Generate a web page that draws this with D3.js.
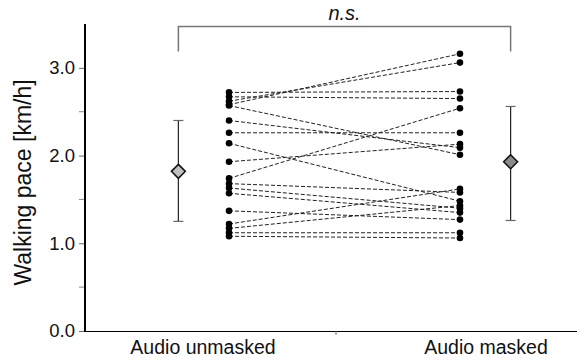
<!DOCTYPE html>
<html>
<head>
<meta charset="utf-8">
<script src="https://cdn.jsdelivr.net/npm/d3@7"></script>
<style>
  html, body { margin: 0; padding: 0; background: #fff; }
  svg { display: block; font-family: "Liberation Sans", Arial, sans-serif; }
</style>
</head>
<body>
<svg id="chart" width="577" height="360"></svg>
<script>
// ---- data ----
const categories = ["Audio unmasked", "Audio masked"];
const unmasked = [2.72, 2.67, 2.62, 2.58, 2.57, 2.40, 2.26, 2.14, 1.93, 1.74, 1.68, 1.63, 1.57, 1.37, 1.22, 1.17, 1.12, 1.08];
const masked   = [2.73, 2.65, 3.06, 3.16, 2.01, 2.09, 2.26, 1.48, 2.13, 2.54, 1.58, 1.40, 1.35, 1.27, 1.62, 1.43, 1.12, 1.06];
const means    = [1.82, 1.93];
const errLow   = [1.25, 1.26];
const errHigh  = [2.40, 2.56];
const meanFills = ["#c0c0c0", "#8a8a8a"];
const yMajorTicks = [0, 1, 2, 3];
const yMinorTicks = [0.5, 1.5, 2.5];
const yTickLabels = ["0.0", "1.0", "2.0", "3.0"];
const yTitle = "Walking pace [km/h]";
const sigLabel = "n.s.";

// ---- layout ----
const svg = d3.select("#chart");
const mLeft = 85, mRight = 577, mTop = 24, mBottom = 331;
const y = d3.scaleLinear().domain([0, 3.5]).range([mBottom, mTop]);
const x = d3.scaleLinear().domain([0, 1]).range([203, 486]);
const pointOffset = 0.092;   // individual points shifted toward centre
const meanOffset = 0.087;    // means shifted outward
const px = i => x(i + (i === 0 ? pointOffset : -pointOffset));
const mx = i => x(i + (i === 0 ? -meanOffset : meanOffset));

// paired dashed lines
const pairs = unmasked.map((v, k) => [v, masked[k]]);
svg.append("g").selectAll("line").data(pairs).join("line")
  .attr("x1", px(0)).attr("x2", px(1))
  .attr("y1", d => y(d[0])).attr("y2", d => y(d[1]))
  .attr("stroke", "#222").attr("stroke-width", 1)
  .attr("stroke-dasharray", "4,2");

// points
[unmasked, masked].forEach((arr, i) => {
  svg.append("g").selectAll("circle").data(arr).join("circle")
    .attr("cx", px(i)).attr("cy", d => y(d)).attr("r", 3.3)
    .attr("fill", "#000");
});

// error bars + means
means.forEach((m, i) => {
  const g = svg.append("g");
  g.append("line").attr("x1", mx(i)).attr("x2", mx(i))
    .attr("y1", y(errLow[i])).attr("y2", y(errHigh[i]))
    .attr("stroke", "#222").attr("stroke-width", 1.2);
  [errLow[i], errHigh[i]].forEach(v => {
    g.append("line").attr("x1", mx(i) - 5).attr("x2", mx(i) + 5)
      .attr("y1", y(v)).attr("y2", y(v))
      .attr("stroke", "#666").attr("stroke-width", 1.2);
  });
  const s = 7;
  g.append("path")
    .attr("d", `M${mx(i)},${y(m) - s} L${mx(i) + s},${y(m)} L${mx(i)},${y(m) + s} L${mx(i) - s},${y(m)} Z`)
    .attr("fill", meanFills[i]).attr("stroke", "#111").attr("stroke-width", 1.5);
});

// significance bracket
const bTop = 26.5, bEnd = 51.5;
svg.append("path")
  .attr("d", `M${mx(0)},${bEnd} V${bTop} H${mx(1)} V${bEnd}`)
  .attr("fill", "none").attr("stroke", "#777").attr("stroke-width", 1.5);
svg.append("text").attr("x", (mx(0) + mx(1)) / 2).attr("y", 20)
  .attr("text-anchor", "middle").attr("font-style", "italic")
  .attr("font-size", 20).attr("fill", "#111").text(sigLabel);

// y axis
const yAxis = d3.axisLeft(y).tickValues(yMajorTicks)
  .tickFormat((d, k) => yTickLabels[k]).tickSize(6).tickPadding(4);
const ya = svg.append("g").attr("transform", `translate(${mLeft},0)`).call(yAxis);
ya.select(".domain").remove();
ya.selectAll(".tick line").attr("stroke", "#666");
ya.selectAll(".tick text").attr("font-size", 18.5).attr("fill", "#111")
  .attr("font-family", "Liberation Sans, Arial, sans-serif");
svg.append("g").selectAll("line").data(yMinorTicks).join("line")
  .attr("x1", mLeft - 6).attr("x2", mLeft)
  .attr("y1", d => y(d)).attr("y2", d => y(d))
  .attr("stroke", "#888");
svg.append("line").attr("x1", mLeft).attr("x2", mLeft)
  .attr("y1", mTop).attr("y2", mBottom + 1)
  .attr("stroke", "#000").attr("stroke-width", 2);

// x axis
svg.append("line").attr("x1", mLeft).attr("x2", mRight)
  .attr("y1", mBottom + 0.5).attr("y2", mBottom + 0.5)
  .attr("stroke", "#000").attr("stroke-width", 1.2);
svg.append("line").attr("x1", x(0.47)).attr("x2", x(0.47))
  .attr("y1", mBottom).attr("y2", mBottom + 4)
  .attr("stroke", "#666");
svg.append("g").selectAll("text").data(categories).join("text")
  .attr("x", (d, i) => x(i)).attr("y", 354)
  .attr("text-anchor", "middle").attr("font-size", 19.5).attr("fill", "#111")
  .text(d => d);

// y title
svg.append("text")
  .attr("transform", `translate(31,${(mTop + mBottom) / 2 + 5}) rotate(-90)`)
  .attr("text-anchor", "middle").attr("font-size", 23).attr("fill", "#111")
  .text(yTitle);
</script>
</body>
</html>
